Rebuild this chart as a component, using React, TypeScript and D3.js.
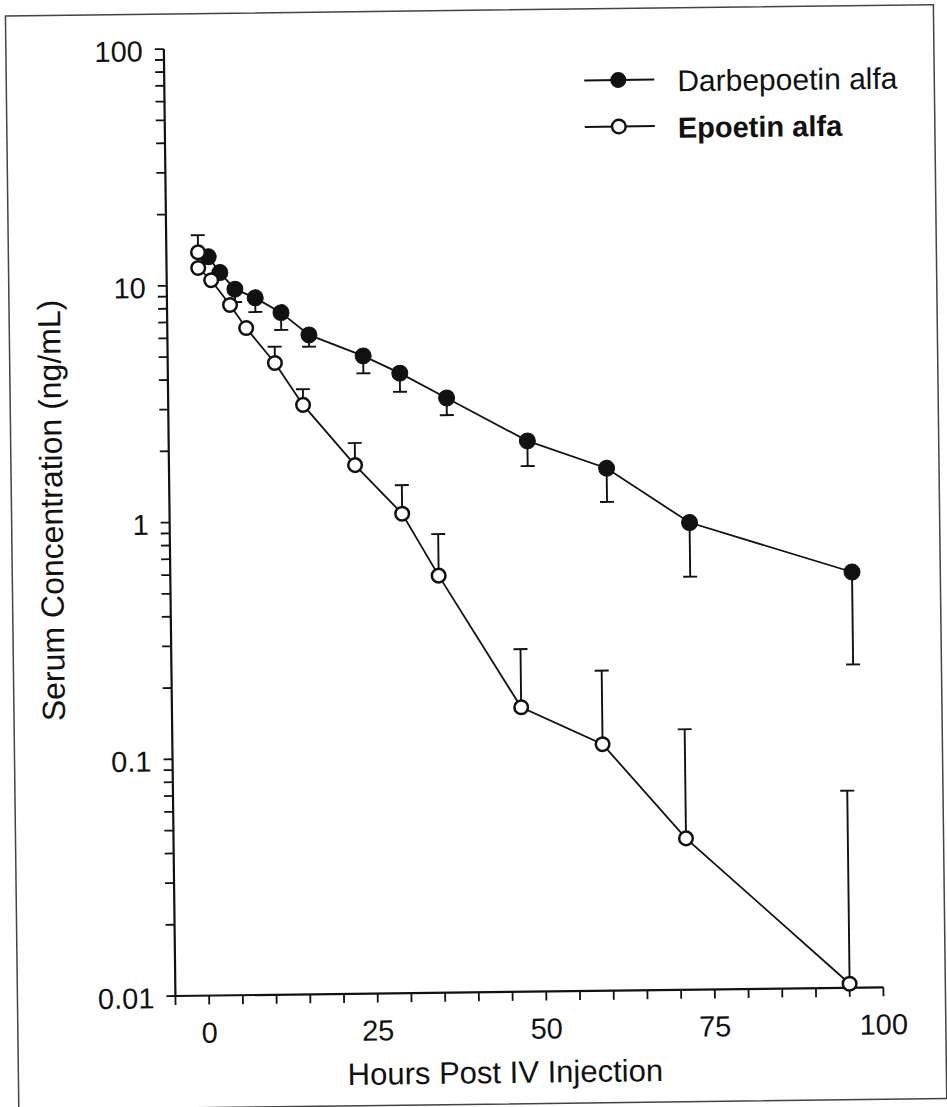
import React from "react";
import * as d3 from "d3";

const darbeHours = [1.2, 2.9, 5.1, 8.1, 11.9, 16.0, 24.0, 29.4, 36.3, 48.2, 59.9, 72.1, 96.1];
const darbeConc = [13.2, 11.3, 9.6, 8.8, 7.6, 6.1, 4.94, 4.16, 3.25, 2.12, 1.61, 0.94, 0.57];
const darbeLower: (number | null)[] = [null, null, 8.47, 7.67, 6.42, 5.44, 4.17, 3.47, 2.75, 1.66, 1.16, 0.555, 0.232];

const epoHours = [-0.3, -0.3, 1.6, 4.35, 6.7, 10.9, 15.0, 22.6, 29.5, 34.8, 46.8, 58.8, 71.0, 95.0];
const epoConc = [13.8, 11.85, 10.5, 8.24, 6.57, 4.66, 3.09, 1.71, 1.06, 0.578, 0.159, 0.11, 0.0436, 0.0104];
const epoUpper: (number | null)[] = [16.3, null, null, null, null, 5.46, 3.6, 2.12, 1.4, 0.866, 0.28, 0.225, 0.126, 0.068];

const xTickLabels = [0, 25, 50, 75, 100];
const yTickLabels = [
  { v: 0.01, t: "0.01" },
  { v: 0.1, t: "0.1" },
  { v: 1, t: "1" },
  { v: 10, t: "10" },
  { v: 100, t: "100" },
];
const seriesNames = ["Darbepoetin alfa", "Epoetin alfa"];
const xTitle = "Hours Post IV Injection";
const yTitle = "Serum Concentration (ng/mL)";

const FONT = "'Liberation Sans', Arial, Helvetica, sans-serif";
const INK = "#111";

export default function App() {
  const W = 947, H = 1107;
  const x = d3.scaleLinear().domain([-5, 100]).range([170, 878]);
  const y = d3.scaleLog().domain([0.01, 100]).range([992, 45]);

  const xTicks = d3.range(-5, 101, 5);
  const yTicks: number[] = [];
  for (let e = -2; e <= 1; e++) for (let m = 1; m <= 9; m++) yTicks.push(m * Math.pow(10, e));
  yTicks.push(100);

  const line = d3
    .line<[number, number]>()
    .x((d) => x(d[0]))
    .y((d) => y(d[1]));

  const darbe = darbeHours.map((h, i) => [h, darbeConc[i]] as [number, number]);
  const epo = epoHours.map((h, i) => [h, epoConc[i]] as [number, number]);

  const x0 = x(-5), yB = y(0.01), yT = y(100);
  const r = 8;
  const cap = 7;

  return (
    <svg
      width={W}
      height={H}
      style={{ position: "absolute", left: 0, top: 0, background: "#fff" }}
      fontFamily={FONT}
    >
      <rect x={0} y={0} width={W} height={H} fill="#fff" />
      <g transform="rotate(-0.7, 500, 550)">
        {/* frame */}
        <rect x={12} y={10} width={928} height={1094} fill="none" stroke="#444" strokeWidth={1.5} />

        {/* axes */}
        <line x1={x0} x2={x0} y1={yT} y2={yB} stroke={INK} strokeWidth={2.2} />
        <line x1={x0} x2={x(100)} y1={yB} y2={yB} stroke={INK} strokeWidth={2.2} />
        {yTicks.map((v, i) => (
          <line key={"yt" + i} x1={x0 - 9} x2={x0} y1={y(v)} y2={y(v)} stroke={INK} strokeWidth={1.8} />
        ))}
        {xTicks.map((v, i) => (
          <line key={"xt" + i} x1={x(v)} x2={x(v)} y1={yB} y2={yB + 9} stroke={INK} strokeWidth={1.8} />
        ))}
        {yTickLabels.map((d) => (
          <text key={"yl" + d.t} x={149} y={y(d.v) + 2} textAnchor="end" dominantBaseline="central" fontSize={29} fill={INK}>
            {d.t}
          </text>
        ))}
        {xTickLabels.map((v) => (
          <text key={"xl" + v} x={x(v)} y={1039} textAnchor="middle" fontSize={29} fill={INK}>
            {v}
          </text>
        ))}
        <text x={499} y={1083} textAnchor="middle" fontSize={31} fill={INK}>
          {xTitle}
        </text>
        <text
          transform={`translate(63, 505) rotate(-90)`}
          textAnchor="middle"
          fontSize={32}
          fill={INK}
        >
          {yTitle}
        </text>

        {/* series lines */}
        <path d={line(darbe) || ""} fill="none" stroke={INK} strokeWidth={1.8} />
        <path d={line(epo) || ""} fill="none" stroke={INK} strokeWidth={1.8} />

        {/* error bars */}
        {darbeLower.map((lo, i) =>
          lo == null ? null : (
            <g key={"de" + i} stroke={INK} strokeWidth={1.9}>
              <line x1={x(darbeHours[i])} x2={x(darbeHours[i])} y1={y(darbeConc[i])} y2={y(lo)} />
              <line x1={x(darbeHours[i]) - cap} x2={x(darbeHours[i]) + cap} y1={y(lo)} y2={y(lo)} />
            </g>
          )
        )}
        {epoUpper.map((up, i) =>
          up == null ? null : (
            <g key={"ee" + i} stroke={INK} strokeWidth={1.9}>
              <line x1={x(epoHours[i])} x2={x(epoHours[i])} y1={y(epoConc[i])} y2={y(up)} />
              <line x1={x(epoHours[i]) - cap} x2={x(epoHours[i]) + cap} y1={y(up)} y2={y(up)} />
            </g>
          )
        )}

        {/* markers */}
        {darbe.map((d, i) => (
          <circle key={"dc" + i} cx={x(d[0])} cy={y(d[1])} r={r} fill={INK} stroke={INK} strokeWidth={1} />
        ))}
        {epo.map((d, i) => (
          <circle key={"ec" + i} cx={x(d[0])} cy={y(d[1])} r={r - 1.2} fill="#fff" stroke={INK} strokeWidth={2.5} />
        ))}

        {/* legend */}
        <g>
          <line x1={590} x2={660} y1={81.5} y2={81.5} stroke={INK} strokeWidth={2} />
          <circle cx={624} cy={81.5} r={8} fill={INK} />
          <text x={683} y={93.5} fontSize={30} fill={INK}>
            {seriesNames[0]}
          </text>
          <line x1={590} x2={660} y1={128} y2={128} stroke={INK} strokeWidth={2} />
          <circle cx={624} cy={128} r={6.8} fill="#fff" stroke={INK} strokeWidth={2.4} />
          <text x={683} y={140} fontSize={29} fontWeight="bold" fill={INK}>
            {seriesNames[1]}
          </text>
        </g>
      </g>
    </svg>
  );
}
